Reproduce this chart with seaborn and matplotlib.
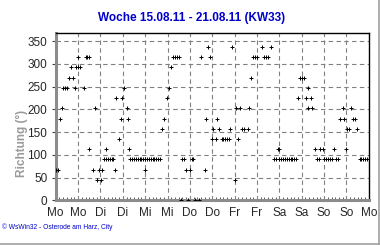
import matplotlib
matplotlib.use("Agg")
import matplotlib.pyplot as plt
import seaborn as sns
import pandas as pd
from matplotlib.ticker import MultipleLocator
from matplotlib.lines import Line2D

# hours since Monday 00:00 for each wind direction
h_3375 = [81.6, 94.4, 110.8, 115.7]
h_315 = [12, 16, 17, 18, 63, 64, 65, 66, 78, 82.7, 106, 107, 108, 112, 113, 114]
h_2925 = [8.3, 11, 12, 13, 62]
h_270 = [7, 9.4, 105, 131, 132, 133]
h_2475 = [4, 5, 6, 10.4, 15.2, 36.7, 60.8, 135.2]
h_225 = [32.6, 35.8, 59.6, 129.9, 134.1, 136.8]
h_2025 = [3.5, 21, 38, 96.8, 98.9, 103.8, 135.6, 137.7, 154, 158.7]
h_180 = [2.3, 35, 38.6, 58.1, 80.4, 86.5, 152.8, 154.8, 159.6, 160.8]
h_1575 = [57.2, 84.3, 87.6, 93.5, 100, 101, 103, 156.5, 157.6, 161.9]
h_135 = [33.7, 84, 85.8, 89, 90, 91, 92, 93, 97.9]
h_1125 = [17.8, 26.8, 39.5, 119, 120, 138.9, 141.8, 143.2, 149.4, 156]
h_90 = [26, 27, 28, 29, 30, 31, 40, 41, 42, 43, 44, 45, 46, 47, 48, 49, 50, 51,
        52, 53, 54, 55, 56, 67.6, 68.8, 73, 73.8, 117, 118, 120, 121, 122, 123,
        124, 125, 126, 127, 128, 129, 140, 141.2, 144, 145, 146, 147, 148,
        150.3, 151.6, 163, 164, 165, 166, 167]
h_675 = [0.4, 1.4, 20, 23.3, 24.7, 31.6, 48, 69.9, 72, 80]
h_45 = [22, 24.2, 96]
h_0 = [67, 71, 75, 77]

richtungen = [337.5, 315, 292.5, 270, 247.5, 225, 202.5, 180, 157.5, 135,
              112.5, 90, 67.5, 45, 0]
stunden_listen = [h_3375, h_315, h_2925, h_270, h_2475, h_225, h_2025, h_180,
                  h_1575, h_135, h_1125, h_90, h_675, h_45, h_0]

tick_labels = ["Mo", "Mo", "Di", "Di", "Mi", "Mi", "Do", "Do",
               "Fr", "Fr", "Sa", "Sa", "So", "So", "Mo"]
title = "Woche 15.08.11 - 21.08.11 (KW33)"

rows = []
for r, hs in zip(richtungen, stunden_listen):
    for h in hs:
        rows.append({"stunde": h, "richtung": r})
df = pd.DataFrame(rows)

sns.set_style("white")
plt.rcParams['font.family'] = ['Liberation Sans', 'DejaVu Sans']

fig = plt.figure(figsize=(3.8, 2.45), dpi=100)
ax = fig.add_axes([0.1466, 0.182, 0.824, 0.685])

sns.scatterplot(data=df, x="stunde", y="richtung", marker="+", s=6,
                color="black", linewidth=0.7, ax=ax, legend=False, zorder=3)

ax.set_xlim(0, 168)
ax.set_ylim(0, 369)
ax.set_xticks(range(0, 169, 12))
ax.set_xticklabels(tick_labels, fontsize=8.5)
ax.xaxis.set_minor_locator(MultipleLocator(2))
ax.set_yticks(range(0, 351, 50))
ax.set_yticklabels([str(v) for v in range(0, 351, 50)], fontsize=8.5)
ax.tick_params(axis="x", which="major", length=0, pad=5)
ax.tick_params(axis="x", which="minor", direction="in", length=2.5,
               width=0.6, color="#404040", bottom=True)
ax.tick_params(axis="y", which="major", direction="out", length=3,
               width=0.8, color="#404040", pad=3, left=True)
ax.set_xlabel("")
ax.set_ylabel("")

ax.grid(True, linestyle=(0, (4, 3)), color="#808080", linewidth=0.8)
ax.set_axisbelow(True)

for side in ["left", "bottom"]:
    ax.spines[side].set_color("#8c8c8c")
    ax.spines[side].set_linewidth(2.2)
for side in ["top", "right"]:
    ax.spines[side].set_color("black")
    ax.spines[side].set_linewidth(1.0)

fig.text(0.503, 1 - 18 / 245, title, ha="center", va="center",
         fontsize=8.5, fontweight="bold", color="#0000CC")
fig.text(22 / 380, 1 - 143 / 245, "Richtung (°)", rotation=90,
         ha="center", va="center", fontsize=8.5, fontweight="bold",
         color="#9a9a9a")
fig.text(2 / 380, 1 - 227 / 245, "© WsWin32 - Osterode am Harz, City",
         ha="left", va="center", fontsize=4.8, color="#0000CC")

fig.add_artist(Line2D([378.5 / 380, 378.5 / 380], [0, 1], color="#a0a0a0",
                      linewidth=1.2))
fig.add_artist(Line2D([0, 1], [0.8 / 245, 0.8 / 245], color="#a0a0a0",
                      linewidth=1.2))

fig.savefig("out.png", dpi=100)
